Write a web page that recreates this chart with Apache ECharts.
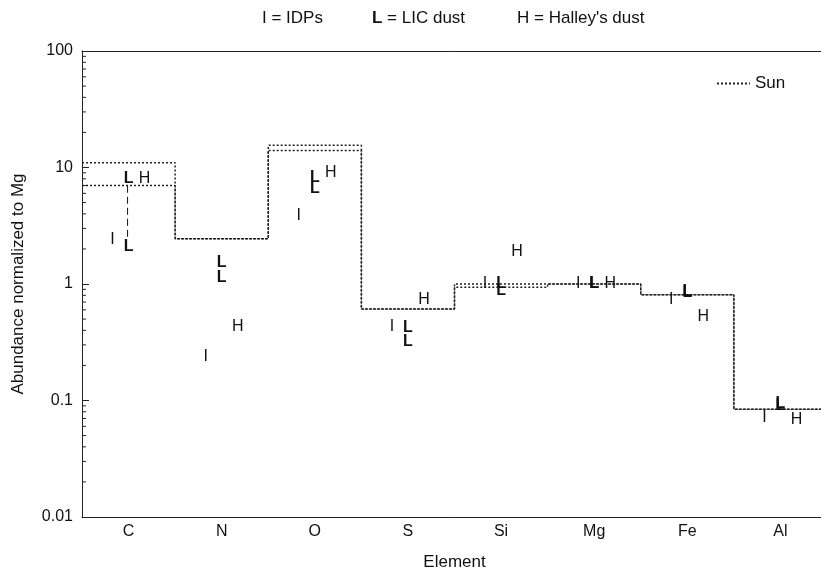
<!DOCTYPE html>
<html>
<head>
<meta charset="utf-8">
<script src="https://cdn.jsdelivr.net/npm/echarts@6/dist/echarts.min.js"></script>
<style>
  html, body { margin: 0; padding: 0; background: #fff; }
  #chart { width: 821px; height: 570px; }
</style>
</head>
<body>
<div id="chart"></div>
<script>
// Elemental abundances normalized to Mg
const elements = ['C', 'N', 'O', 'S', 'Si', 'Mg', 'Fe', 'Al'];
const sunUpper = [11, 2.45, 15.5, 0.61, 1.0, 1.0, 0.81, 0.084];
const sunLower = [7.0, 2.45, 14, 0.61, 0.94, 1.0, 0.81, 0.084];
const idps = [2.4, 0.24, 3.9, 0.43, 1.01, 1.0, 0.73, 0.071];
const licHigh = [8.0, 1.53, 8.25, 0.42, 1.0, 1.0, 0.86, 0.094];
const licLow = [2.1, 1.13, 6.6, 0.32, 0.875, 1.0, 0.84, 0.090];
const halley = [8.05, 0.43, 9.1, 0.73, 1.89, 1.0, 0.53, 0.069];
const linkedRanges = ['C'];
const yTickLabels = ['0.01', '0.1', '1', '10', '100'];

const FONT = '"Liberation Sans", Arial, Helvetica, sans-serif';
const INK = '#111';
const AXIS = '#222';

// minor log ticks 2..9 in every decade
const decades = [0.01, 0.1, 1, 10];
const minorTicks = [];
decades.forEach(d => { for (let m = 2; m <= 9; m++) minorTicks.push(d * m); });

// step outline: each value spans its whole category band
function stepData(vals) {
  const pts = vals.map((v, i) => [i - 0.5, v]);
  pts.push([vals.length - 0.5, vals[vals.length - 1]]);
  return pts;
}

function sunSeries(vals) {
  return {
    type: 'line', name: 'Sun', xAxisIndex: 2, yAxisIndex: 0,
    step: 'end', symbol: 'none', silent: true, z: 2,
    color: AXIS,
    itemStyle: { color: AXIS },
    lineStyle: { color: AXIS, width: 1.5, type: [2, 2] },
    data: stepData(vals)
  };
}

function letterSeries(name, vals, letter, dx, weight) {
  return {
    type: 'custom', name: name, xAxisIndex: 0, yAxisIndex: 0, silent: true, z: 5,
    data: vals.map((v, i) => [i, v]),
    renderItem: function (params, api) {
      const p = api.coord([api.value(0), api.value(1)]);
      return {
        type: 'text', x: p[0] + dx, y: p[1],
        style: {
          text: letter, fill: INK,
          font: weight + ' 16px ' + FONT,
          align: 'center', verticalAlign: 'middle'
        }
      };
    }
  };
}

const chart = echarts.init(document.getElementById('chart'), null, { renderer: 'canvas' });

const titleStyle = { fontSize: 17, fontWeight: 'normal', color: INK, fontFamily: FONT };

const option = {
  backgroundColor: '#fff',
  animation: false,
  title: [
    { text: 'I = IDPs', left: 262, top: 10, padding: 0, textStyle: titleStyle },
    { text: '{b|L} = LIC dust', left: 372, top: 10, padding: 0,
      textStyle: Object.assign({}, titleStyle, {
        rich: { b: { fontSize: 17, fontWeight: 'bold', color: INK, fontFamily: FONT } } }) },
    { text: "H = Halley's dust", left: 517, top: 10, padding: 0, textStyle: titleStyle }
  ],
  legend: {
    data: ['Sun'], left: 716, top: 75, padding: 0,
    itemWidth: 33, itemHeight: 14, itemGap: 8,
    itemStyle: { opacity: 0 },
    textStyle: { fontSize: 17, color: INK, fontFamily: FONT }
  },
  grid: { left: 82, top: 51, width: 745, height: 466, containLabel: false, outerBoundsMode: 'none' },
  xAxis: [
    {
      type: 'category', data: elements, position: 'bottom', boundaryGap: true,
      name: 'Element', nameLocation: 'middle', nameGap: 37,
      nameTextStyle: { fontSize: 17, color: INK, fontFamily: FONT },
      axisLine: { onZero: false, lineStyle: { color: AXIS, width: 1 } },
      axisTick: { inside: true, length: 6, alignWithLabel: false, lineStyle: { color: AXIS } },
      axisLabel: { fontSize: 16, color: INK, fontFamily: FONT, margin: 7 },
      splitLine: { show: false }
    },
    {
      type: 'category', data: elements, position: 'top', boundaryGap: true,
      axisLine: { onZero: false, lineStyle: { color: AXIS, width: 1 } },
      axisTick: { inside: true, length: 5, lineStyle: { color: AXIS } },
      axisLabel: { show: false },
      splitLine: { show: false }
    },
    {
      type: 'value', min: -0.5, max: 7.5, show: false, splitLine: { show: false }
    }
  ],
  yAxis: [
    {
      type: 'log', logBase: 10, min: 0.01, max: 100, interval: 1,
      name: 'Abundance normalized to Mg', nameLocation: 'middle', nameGap: 55,
      nameTextStyle: { fontSize: 17, color: INK, fontFamily: FONT },
      axisLine: { show: true, onZero: false, lineStyle: { color: AXIS, width: 1 } },
      axisTick: { show: true, inside: true, length: 7, lineStyle: { color: AXIS } },
      axisLabel: {
        fontSize: 16, color: INK, fontFamily: FONT, margin: 9,
        formatter: v => yTickLabels[Math.round(Math.log10(v)) + 2]
      },
      splitLine: { show: false }
    }
  ],
  series: [
    sunSeries(sunUpper),
    sunSeries(sunLower),
    {
      // minor ticks on the log axis
      type: 'custom', xAxisIndex: 0, yAxisIndex: 0, silent: true, z: 3,
      data: minorTicks.map(v => [0, v]),
      renderItem: function (params, api) {
        const p0 = api.coord([0, api.value(1)]);
        const p1 = api.coord([1, api.value(1)]);
        const x0 = p0[0] - (p1[0] - p0[0]) / 2;
        return {
          type: 'line',
          shape: { x1: x0, y1: p0[1], x2: x0 + 4, y2: p0[1] },
          style: { stroke: AXIS, lineWidth: 1 }
        };
      }
    },
    {
      // dashed link between the LIC upper and lower values
      type: 'custom', xAxisIndex: 0, yAxisIndex: 0, silent: true, z: 4,
      data: linkedRanges.map(e => {
        const i = elements.indexOf(e);
        return [i, licHigh[i], licLow[i]];
      }),
      renderItem: function (params, api) {
        const a = api.coord([api.value(0), api.value(1)]);
        const b = api.coord([api.value(0), api.value(2)]);
        return {
          type: 'line',
          shape: { x1: a[0] - 1, y1: a[1] + 7, x2: b[0] - 1, y2: b[1] - 7 },
          style: { stroke: INK, lineWidth: 1, lineDash: [7, 4] }
        };
      }
    },
    letterSeries('IDPs', idps, 'I', -16, 'normal'),
    letterSeries('LIC dust high', licHigh, 'L', 0, 'bold'),
    letterSeries('LIC dust low', licLow, 'L', 0, 'bold'),
    letterSeries("Halley's dust", halley, 'H', 16, 'normal')
  ]
};

chart.setOption(option);
</script>
</body>
</html>
